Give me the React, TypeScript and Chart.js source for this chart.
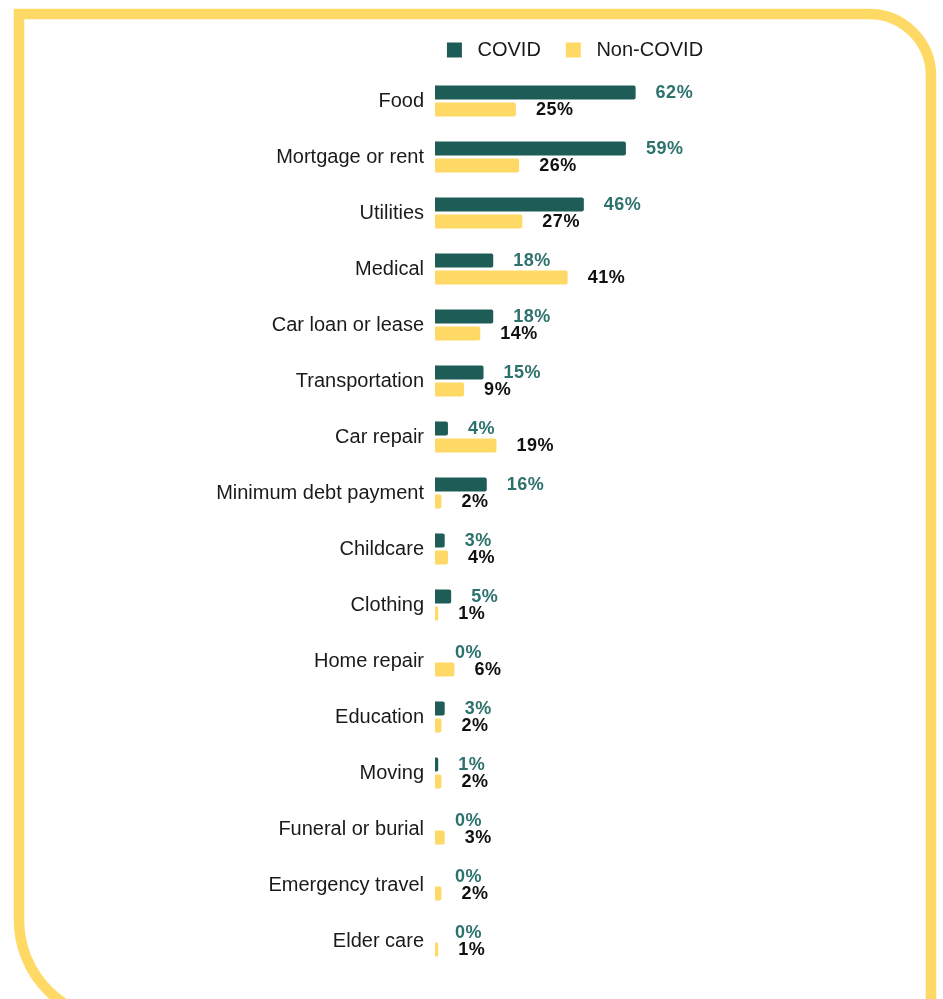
import React, { useEffect, useRef } from "react";
import { Chart, registerables } from "chart.js";

Chart.register(...registerables);

const categories = [
  "Food",
  "Mortgage or rent",
  "Utilities",
  "Medical",
  "Car loan or lease",
  "Transportation",
  "Car repair",
  "Minimum debt payment",
  "Childcare",
  "Clothing",
  "Home repair",
  "Education",
  "Moving",
  "Funeral or burial",
  "Emergency travel",
  "Elder care",
];
const covidValues = [62, 59, 46, 18, 18, 15, 4, 16, 3, 5, 0, 3, 1, 0, 0, 0];
const nonCovidValues = [25, 26, 27, 41, 14, 9, 19, 2, 4, 1, 6, 2, 2, 3, 2, 1];
const seriesNames = ["COVID", "Non-COVID"];

const FONT = '"Liberation Sans", Arial, Helvetica, sans-serif';
const TEAL = "#1E5C58";
const TEAL_LABEL = "#2D726D";
const YELLOW = "#FFD966";

const framePlugin = {
  id: "frame",
  beforeDraw(chart: any) {
    const ctx = chart.ctx;
    ctx.save();
    ctx.fillStyle = "#ffffff";
    ctx.fillRect(0, 0, chart.width, chart.height);
    ctx.strokeStyle = YELLOW;
    ctx.lineWidth = 10.5;
    ctx.lineJoin = "miter";
    const L = 19, T = 14, R = 931, B = 1020, rTR = 62, rBL = 100;
    ctx.beginPath();
    ctx.moveTo(R, 1010);
    ctx.lineTo(R, T + rTR);
    ctx.arcTo(R, T, R - rTR, T, rTR);
    ctx.lineTo(L, T);
    ctx.lineTo(L, B - rBL);
    ctx.arcTo(L, B, L + rBL, B, rBL);
    ctx.lineTo(R, B);
    ctx.stroke();
    ctx.restore();
  },
};

const valueLabelPlugin = {
  id: "valueLabels",
  afterDatasetsDraw(chart: any) {
    const ctx = chart.ctx;
    ctx.save();
    ctx.font = `bold 18px ${FONT}`;
    try {
      (ctx as any).letterSpacing = "0.5px";
    } catch (e) {}
    ctx.textAlign = "left";
    ctx.textBaseline = "middle";
    chart.data.datasets.forEach((ds: any, di: number) => {
      const meta = chart.getDatasetMeta(di);
      ctx.fillStyle = di === 0 ? TEAL_LABEL : "#111111";
      meta.data.forEach((bar: any, i: number) => {
        const v = ds.data[i];
        ctx.fillText(`${v}%`, bar.x + 20, bar.y + 1);
      });
    });
    ctx.restore();
  },
};

export default function App() {
  const ref = useRef<HTMLCanvasElement | null>(null);

  useEffect(() => {
    if (!ref.current) return;
    const chart = new Chart(ref.current, {
      type: "bar",
      data: {
        labels: categories,
        datasets: [
          {
            label: seriesNames[0],
            data: covidValues,
            backgroundColor: TEAL,
            borderRadius: 2,
            categoryPercentage: 0.607,
            barPercentage: 0.82,
          },
          {
            label: seriesNames[1],
            data: nonCovidValues,
            backgroundColor: YELLOW,
            borderRadius: 2,
            categoryPercentage: 0.607,
            barPercentage: 0.82,
          },
        ],
      },
      options: {
        indexAxis: "y",
        responsive: false,
        animation: false,
        devicePixelRatio: 1,
        layout: { padding: { left: 207, right: 0, top: 15, bottom: 30 } },
        plugins: {
          tooltip: { enabled: false },
          legend: {
            position: "top",
            labels: {
              boxWidth: 15,
              boxHeight: 15,
              padding: 25,
              color: "#1a1a1a",
              font: { size: 20, family: FONT },
              generateLabels: (c: any) => {
                const items = (Chart as any).defaults.plugins.legend.labels.generateLabels(c);
                return items.map((it: any) => ({ ...it, text: " " + it.text, lineWidth: 0 }));
              },
            },
          },
        },
        scales: {
          x: {
            position: "top",
            min: 0,
            max: 157,
            grid: { display: false, drawTicks: false },
            border: { display: false },
            ticks: { display: false },
            afterFit: (s: any) => {
              s.height = 3;
            },
          },
          y: {
            position: "left",
            grid: { display: false, drawTicks: false },
            border: { display: false },
            ticks: {
              color: "#1a1a1a",
              padding: 11,
              font: { size: 20, family: FONT },
            },
            afterFit: (s: any) => {
              s.width = 228;
            },
          },
        },
      },
      plugins: [framePlugin, valueLabelPlugin],
    } as any);
    return () => chart.destroy();
  }, []);

  return (
    <div
      style={{
        position: "fixed",
        left: 0,
        top: 0,
        width: 943,
        height: 999,
        overflow: "hidden",
        background: "#ffffff",
      }}
    >
      <canvas ref={ref} width={943} height={999} style={{ display: "block", width: 943, height: 999 }} />
    </div>
  );
}
